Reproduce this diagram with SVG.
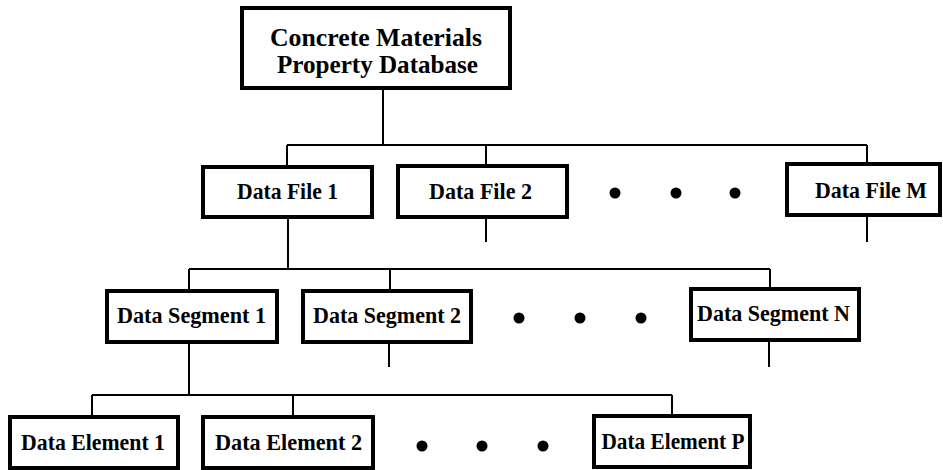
<svg xmlns="http://www.w3.org/2000/svg" width="943" height="470" viewBox="0 0 943 470">
<style>
.box{fill:#fff;stroke:#000;stroke-width:4}
.t{font-family:"Liberation Serif","Times New Roman",serif;font-weight:bold;font-size:24px;fill:#000;text-anchor:middle}
.tt{font-size:26px}
.c{fill:none;stroke:#000;stroke-width:2}
.dot{fill:#000}
</style>
<rect width="943" height="470" fill="#fff"/>
<g id="connectors">
<path class="c" d="M383 88V145M287 145H867M287 145V167M486 145V166M867 145V164"/>
<path class="c" d="M486 217V242M867 215V242"/>
<path class="c" d="M288 217V269M189 269H770M189 269V291M390 269V291M770 269V289"/>
<path class="c" d="M389 342V367M769 340V367"/>
<path class="c" d="M189 342V395M92 395H672M92 395V417M293 395V417M672 395V416"/>
</g>
<g id="root">
<rect class="box" x="242" y="8" width="268" height="80"/>
<text class="t tt" x="376" y="46" textLength="212" lengthAdjust="spacingAndGlyphs">Concrete Materials</text>
<text class="t tt" x="377.5" y="73" textLength="201" lengthAdjust="spacingAndGlyphs">Property Database</text>
</g>
<g id="file1"><rect class="box" x="203" y="167" width="169" height="50"/><text class="t" x="287.5" y="199" textLength="101" lengthAdjust="spacingAndGlyphs">Data File 1</text></g>
<g id="file2"><rect class="box" x="398" y="166" width="169" height="51"/><text class="t" x="480.5" y="199" textLength="103" lengthAdjust="spacingAndGlyphs">Data File 2</text></g>
<g id="fileM"><rect class="box" x="787" y="164" width="153" height="51"/><text class="t" x="871" y="198" textLength="112" lengthAdjust="spacingAndGlyphs">Data File M</text></g>
<g id="fileDots"><circle class="dot" cx="615" cy="193" r="5.5"/><circle class="dot" cx="676" cy="193" r="5.5"/><circle class="dot" cx="735" cy="193" r="5.5"/></g>
<g id="seg1"><rect class="box" x="107" y="291" width="170" height="51"/><text class="t" x="191.5" y="323" textLength="149" lengthAdjust="spacingAndGlyphs">Data Segment 1</text></g>
<g id="seg2"><rect class="box" x="303" y="291" width="168" height="51"/><text class="t" x="387" y="323" textLength="148" lengthAdjust="spacingAndGlyphs">Data Segment 2</text></g>
<g id="segN"><rect class="box" x="691" y="289" width="168" height="51"/><text class="t" x="773.5" y="321" textLength="153" lengthAdjust="spacingAndGlyphs">Data Segment N</text></g>
<g id="segDots"><circle class="dot" cx="519" cy="318" r="5.5"/><circle class="dot" cx="580" cy="318" r="5.5"/><circle class="dot" cx="641" cy="318" r="5.5"/></g>
<g id="el1"><rect class="box" x="10" y="417" width="168" height="51"/><text class="t" x="93" y="450" textLength="144" lengthAdjust="spacingAndGlyphs">Data Element 1</text></g>
<g id="el2"><rect class="box" x="203" y="417" width="170" height="51"/><text class="t" x="288.5" y="450" textLength="147" lengthAdjust="spacingAndGlyphs">Data Element 2</text></g>
<g id="elP"><rect class="box" x="594" y="416" width="156" height="51"/><text class="t" x="673" y="449" textLength="143" lengthAdjust="spacingAndGlyphs">Data Element P</text></g>
<g id="elDots"><circle class="dot" cx="422" cy="446" r="5.5"/><circle class="dot" cx="482" cy="446" r="5.5"/><circle class="dot" cx="543" cy="446" r="5.5"/></g>
</svg>
